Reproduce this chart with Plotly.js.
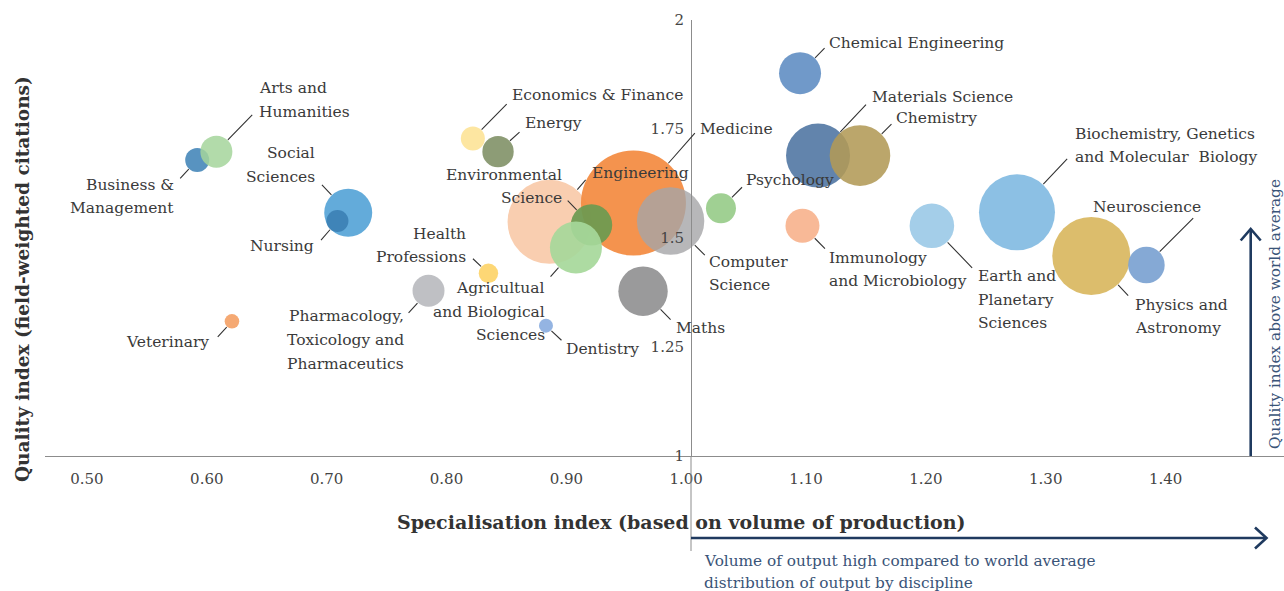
<!DOCTYPE html>
<html>
<head>
<meta charset="utf-8">
<script src="https://cdn.plot.ly/plotly-3.0.1.min.js"></script>
<style>
  html, body { margin: 0; padding: 0; background: #ffffff; }
  #chart { width: 1284px; height: 591px; }
</style>
</head>
<body>
<div id="chart"></div>
<script>
// ---------------- DATA ----------------
const categories = [
  "Veterinary",
  "Business &\nManagement",
  "Arts and\nHumanities",
  "Social\nSciences",
  "Nursing",
  "Pharmacology,\nToxicology and\nPharmaceutics",
  "Health\nProfessions",
  "Dentistry",
  "Economics & Finance",
  "Energy",
  "Engineering",
  "Medicine",
  "Environmental\nScience",
  "Agricultual\nand Biological\nSciences",
  "Maths",
  "Computer\nScience",
  "Psychology",
  "Chemical Engineering",
  "Materials Science",
  "Chemistry",
  "Immunology\nand Microbiology",
  "Earth and\nPlanetary\nSciences",
  "Biochemistry, Genetics\nand Molecular  Biology",
  "Physics and\nAstronomy",
  "Neuroscience"
];
// Specialisation index (based on volume of production)
const specialisation = [
  0.621, 0.592, 0.608, 0.718, 0.709, 0.785, 0.835, 0.883, 0.822, 0.843,
  0.886, 0.956, 0.921, 0.908, 0.964, 0.987, 1.029, 1.095, 1.110, 1.145,
  1.097, 1.205, 1.276, 1.338, 1.384
];
// Quality index (field-weighted citations)
const quality = [
  1.309, 1.679, 1.698, 1.558, 1.539, 1.379, 1.419, 1.299, 1.728, 1.698,
  1.537, 1.580, 1.530, 1.478, 1.378, 1.539, 1.568, 1.878, 1.689, 1.689,
  1.528, 1.528, 1.559, 1.459, 1.438
];
// Relative volume of output (bubble area)
const output = [
  0.53, 1.44, 2.56, 5.76, 1.21, 2.56, 0.94, 0.49, 1.44, 2.46,
  17.64, 27.56, 4.28, 6.76, 6.10, 11.36, 2.25, 4.41, 10.24, 9.18,
  2.89, 4.97, 14.44, 15.21, 3.35
];
const xTicks = [0.5, 0.6, 0.7, 0.8, 0.9, 1.0, 1.1, 1.2, 1.3, 1.4];
const yTicks = [1, 1.25, 1.5, 1.75, 2];
const yTickText = ["1", "1.25", "1.5", "1.75", "2"];

// ---------------- STYLE ----------------
const colors = [
  "#f4a46c", "#4f8dbd", "#a5d59b", "#5ba7d8", "#3b7fb4", "#bcbdc1", "#fdd56e", "#8eb0e0",
  "#fde59c", "#87976f", "#f8caa9", "#f38d45", "#6a9a50", "#a6d89a", "#959596", "#a5a5a7",
  "#9bcd8d", "#6894c6", "#5a7da8", "#b29a57", "#f8b591", "#9fcbe8", "#86bde3", "#dab964",
  "#7ea4d3"
];
const opac = [
  0.95, 0.95, 0.85, 0.95, 0.9, 0.95, 0.95, 0.95, 0.95, 0.95,
  0.92, 0.95, 0.92, 0.92, 0.95, 0.8, 0.95, 0.95, 0.95, 0.88,
  0.95, 0.95, 0.95, 0.95, 0.95
];
const SIZEREF = 0.005;
const radiusPx = v => Math.sqrt(v / (2 * SIZEREF));

// label layout: [tailDx, tailDy, textDx, textDy, side]  (pixels from bubble centre)
const labelPos = [
  [-15.6, 17, -20.6, 20.4, "right"],
  [-18.4, 20, -21.7, 36.7, "right"],
  [37.3, -38.4, 40.7, -51.7, "left"],
  [-27.7, -29.4, -31.4, -47.7, "right"],
  [-17.7, 20.7, -21, 25, "right"],
  [-21.3, 23.6, -22.3, 49.3, "right"],
  [-17, -16, -20.4, -28, "right"],
  [17, 16, 18, 23.6, "left"],
  [35.3, -36, 37, -43.7, "left"],
  [23, -21, 25.3, -29, "left"],
  [37.4, -43.4, 40.7, -48.4, "left"],
  [62.7, -71.6, 64.3, -74, "left"],
  [-25.3, -25.7, -27.7, -38.3, "right"],
  [-26.7, 30.6, -29.3, 64.3, "right"],
  [29, 30, 31.3, 37.3, "left"],
  [35.7, 35.7, 36, 52.3, "left"],
  [22.6, -22.6, 23.3, -28.3, "left"],
  [26, -26.6, 27, -30, "left"],
  [49.4, -52.4, 52, -59, "left"],
  [33, -33, 34, -37.4, "left"],
  [24, 24.3, 24.6, 43.8, "left"],
  [41.7, 43.6, 43.7, 74, "left"],
  [51.6, -55, 56, -66.6, "left"],
  [38.3, 41.3, 41.3, 60.7, "left"],
  [48.3, -48.3, 0.8, -58.3, "center"]
];
const LINE_GAP = 23.6;
const FONT = "DejaVu Serif, Liberation Serif, serif";
const TXT = "#3a3a3a";
const NAVY = "#1f3a5f";
const NAVY_TXT = "#3a5478";

// plot area geometry
const M = { l: 45, r: 0, t: 20, b: 135 };
const W = 1284 - M.l - M.r, H = 591 - M.t - M.b;
const P = (px, py) => [(px - M.l) / W, (M.t + H - py) / H];
const yAxisPos = P(691, 0)[0];

// ---------------- TRACE ----------------
const trace = {
  type: "scatter",
  mode: "markers",
  x: specialisation,
  y: quality,
  text: categories.map(c => c.replace(/\n/g, " ")),
  hoverinfo: "text",
  marker: {
    size: output,
    sizemode: "area",
    sizeref: SIZEREF,
    color: colors,
    opacity: opac,
    line: { width: 0 }
  },
  cliponaxis: false,
  showlegend: false
};

// ---------------- ANNOTATIONS ----------------
const annotations = [];
categories.forEach((name, i) => {
  const [tdx, tdy, lx, ly, side] = labelPos[i];
  const r = radiusPx(output[i]);
  // leader line
  annotations.push({
    x: specialisation[i], y: quality[i], xref: "x", yref: "y",
    text: "", showarrow: true, arrowhead: 0, arrowwidth: 1.1, arrowcolor: "#333333",
    ax: tdx, ay: tdy, standoff: r + 0.5, font: { size: 1 }
  });
  // label lines
  const lines = name.split("\n");
  const n = lines.length;
  lines.forEach((ln, k) => {
    const cy = ly + (k - (n - 1) / 2) * LINE_GAP;
    annotations.push({
      x: specialisation[i], y: quality[i], xref: "x", yref: "y",
      text: ln, showarrow: false,
      xanchor: side, yanchor: "middle",
      xshift: lx, yshift: -cy,
      font: { family: FONT, size: 15.5, color: TXT }
    });
  });
});

// axis titles and side notes
let p;
p = P(681, 522);
annotations.push({
  xref: "paper", yref: "paper", x: p[0], y: p[1], xanchor: "center", yanchor: "middle",
  text: "<b>Specialisation index (based on volume of production)</b>", showarrow: false,
  font: { family: FONT, size: 19, color: "#333333" }
});
p = P(22, 279);
annotations.push({
  xref: "paper", yref: "paper", x: p[0], y: p[1], xanchor: "center", yanchor: "middle",
  text: "<b>Quality index (field-weighted citations)</b>", showarrow: false, textangle: -90,
  font: { family: FONT, size: 18.5, color: "#333333" }
});
p = P(1275, 314);
annotations.push({
  xref: "paper", yref: "paper", x: p[0], y: p[1], xanchor: "center", yanchor: "middle",
  text: "Quality index above world average", showarrow: false, textangle: -90,
  font: { family: FONT, size: 15.3, color: NAVY_TXT }
});
p = P(702, 561);
annotations.push({
  xref: "paper", yref: "paper", x: p[0], y: p[1], xanchor: "left", yanchor: "middle",
  text: "Volume of output high compared to world average", showarrow: false,
  font: { family: FONT, size: 15.3, color: NAVY_TXT }
});
p = P(702, 583);
annotations.push({
  xref: "paper", yref: "paper", x: p[0], y: p[1], xanchor: "left", yanchor: "middle",
  text: "distribution of output by discipline", showarrow: false,
  font: { family: FONT, size: 15.3, color: NAVY_TXT }
});

// ---------------- SHAPES ----------------
const path = pts => pts.map((q, k) => (k ? "L" : "M") + P(q[0], q[1]).join(",")).join(" ");
const shapes = [
  // vertical axis extension below plot
  { type: "line", xref: "paper", yref: "paper", x0: yAxisPos, x1: yAxisPos,
    y0: 0, y1: P(0, 551)[1], line: { color: "#8c8c8c", width: 1 } },
  // vertical arrow
  { type: "path", xref: "paper", yref: "paper", path: path([[1250.7, 456], [1250.7, 229]]),
    line: { color: NAVY, width: 2.6 } },
  { type: "path", xref: "paper", yref: "paper", path: path([[1240.7, 240.5], [1250.7, 229], [1260.7, 240.5]]),
    line: { color: NAVY, width: 2.6 } },
  // horizontal arrow
  { type: "path", xref: "paper", yref: "paper", path: path([[691, 538], [1266, 538]]),
    line: { color: NAVY, width: 2.6 } },
  { type: "path", xref: "paper", yref: "paper", path: path([[1255, 527.5], [1266.5, 538], [1255, 548.5]]),
    line: { color: NAVY, width: 2.6 } }
];

// ---------------- LAYOUT ----------------
const layout = {
  width: 1284, height: 591,
  margin: M,
  paper_bgcolor: "#ffffff", plot_bgcolor: "#ffffff",
  font: { family: FONT, color: TXT },
  xaxis: {
    range: [0.465, 1.4988],
    tickvals: xTicks, tickformat: ".2f",
    showgrid: false, zeroline: false,
    showline: true, linecolor: "#8c8c8c", linewidth: 1,
    ticks: "", ticklabelstandoff: 9,
    tickfont: { family: FONT, size: 15, color: "#444444" },
    fixedrange: true
  },
  yaxis: {
    range: [1, 2],
    anchor: "free", position: yAxisPos,
    tickvals: yTicks, ticktext: yTickText,
    showgrid: false, zeroline: false,
    showline: true, linecolor: "#8c8c8c", linewidth: 1,
    ticks: "", ticklabelstandoff: 4,
    tickfont: { family: FONT, size: 15, color: "#444444" },
    fixedrange: true
  },
  annotations: annotations,
  shapes: shapes,
  hovermode: "closest"
};

Plotly.newPlot("chart", [trace], layout, { displayModeBar: false, staticPlot: true });
</script>
</body>
</html>
